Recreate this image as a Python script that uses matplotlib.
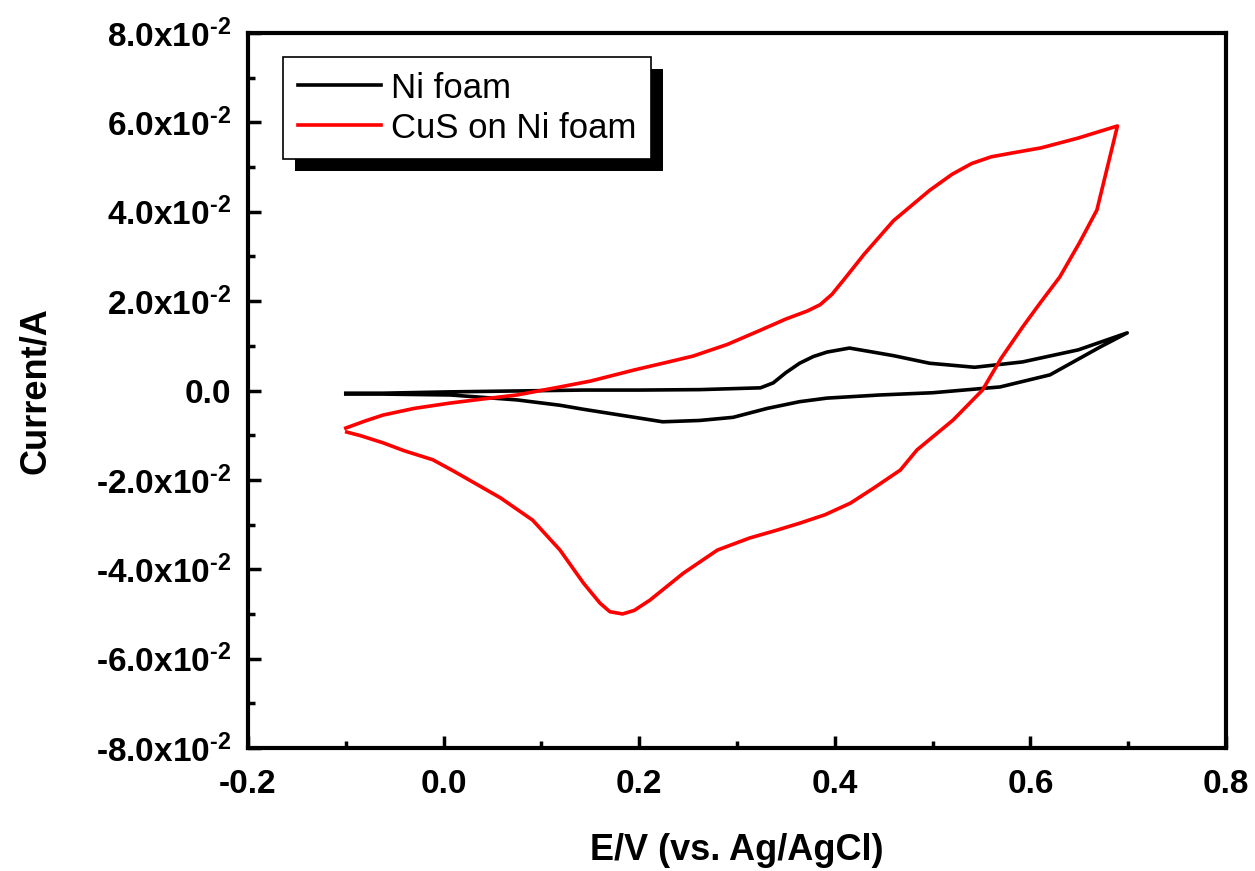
import numpy as np
import matplotlib
matplotlib.use('Agg')
import matplotlib.pyplot as plt
from matplotlib.patches import Rectangle
from matplotlib.ticker import FixedLocator, FixedFormatter, MultipleLocator

plt.rcParams['font.family'] = ['Liberation Sans', 'DejaVu Sans']
plt.rcParams['mathtext.fontset'] = 'custom'
plt.rcParams['mathtext.bf'] = 'Liberation Sans:bold'
plt.rcParams['mathtext.rm'] = 'Liberation Sans:bold'
plt.rcParams['mathtext.default'] = 'bf'

# CV data, E in V, I in A
# Ni foam: forward scan then reverse scan
ni_E = [-0.100, -0.062, 0.007, 0.075, 0.143, 0.200, 0.262, 0.324, 0.337, 0.350,
        0.364, 0.378, 0.392, 0.415, 0.439, 0.460, 0.497, 0.543, 0.592, 0.649,
        0.699,
        0.671, 0.620, 0.569, 0.500, 0.446, 0.392, 0.364, 0.331, 0.296, 0.262,
        0.224, 0.201, 0.143, 0.119, 0.075, 0.007, -0.062, -0.100]
ni_I = [-0.0006, -0.0006, -0.0003, -0.0001, 0.0001, 0.0001, 0.0002, 0.0006, 0.0017, 0.0040,
        0.0061, 0.0076, 0.0086, 0.0095, 0.0086, 0.0078, 0.0061, 0.0052, 0.0064, 0.0091,
        0.0129,
        0.0097, 0.0035, 0.0008, -0.0005, -0.0010, -0.0017, -0.0025, -0.0040, -0.0060, -0.0067,
        -0.0070, -0.0062, -0.0042, -0.0033, -0.0021, -0.0010, -0.0008, -0.0008]

# CuS on Ni foam: anodic scan to the top right corner, then cathodic scan back
cus_E = [-0.100, -0.080, -0.062, -0.030, 0.007, 0.040, 0.075, 0.119, 0.150, 0.195,
         0.230, 0.255, 0.290, 0.324, 0.350, 0.372, 0.385, 0.397, 0.410, 0.430,
         0.460, 0.497, 0.520, 0.540, 0.560, 0.580, 0.611, 0.649, 0.689,
         0.668, 0.650, 0.630, 0.610, 0.592, 0.570, 0.551, 0.521, 0.484, 0.467,
         0.440, 0.416, 0.390, 0.364, 0.340, 0.313, 0.280, 0.245, 0.211, 0.195,
         0.183, 0.170, 0.160, 0.143, 0.119, 0.091, 0.058, 0.030, 0.010, -0.011,
         -0.040, -0.062, -0.085, -0.099]
cus_I = [-0.0084, -0.0068, -0.0055, -0.0040, -0.0028, -0.0019, -0.0010, 0.0008, 0.0021, 0.0046,
         0.0064, 0.0077, 0.0103, 0.0135, 0.0160, 0.0178, 0.0192, 0.0215, 0.0250, 0.0305,
         0.0380, 0.0448, 0.0484, 0.0508, 0.0523, 0.0531, 0.0543, 0.0565, 0.0592,
         0.0404, 0.0330, 0.0254, 0.0196, 0.0142, 0.0072, 0.0001, -0.0066, -0.0133, -0.0178,
         -0.0218, -0.0252, -0.0278, -0.0297, -0.0313, -0.0330, -0.0357, -0.0409, -0.0469, -0.0492,
         -0.0500, -0.0495, -0.0476, -0.0431, -0.0357, -0.0290, -0.0240, -0.0205, -0.0180, -0.0155,
         -0.0135, -0.0117, -0.0101, -0.0093]

x_ticks = [-0.2, 0.0, 0.2, 0.4, 0.6, 0.8]
x_tick_labels = ['-0.2', '0.0', '0.2', '0.4', '0.6', '0.8']
y_ticks = [-0.08, -0.06, -0.04, -0.02, 0.0, 0.02, 0.04, 0.06, 0.08]
y_tick_labels = [r'-8.0x10$^{\text{-2}}$', r'-6.0x10$^{\text{-2}}$', r'-4.0x10$^{\text{-2}}$',
                 r'-2.0x10$^{\text{-2}}$', '0.0', r'2.0x10$^{\text{-2}}$',
                 r'4.0x10$^{\text{-2}}$', r'6.0x10$^{\text{-2}}$', r'8.0x10$^{\text{-2}}$']

fig = plt.figure(figsize=(12.55, 8.71), dpi=100)
ax = fig.add_axes([0.1976, 0.1412, 0.7793, 0.8209])

ax.plot(ni_E, ni_I, color='black', lw=2.6, label='Ni foam')
ax.plot(cus_E, cus_I, color='#ff0000', lw=2.6, label='CuS on Ni foam')

ax.set_xlim(-0.2, 0.8)
ax.set_ylim(-0.08, 0.08)
ax.xaxis.set_major_locator(FixedLocator(x_ticks))
ax.xaxis.set_major_formatter(FixedFormatter(x_tick_labels))
ax.xaxis.set_minor_locator(MultipleLocator(0.1))
ax.yaxis.set_major_locator(FixedLocator(y_ticks))
ax.yaxis.set_major_formatter(FixedFormatter(y_tick_labels))
ax.yaxis.set_minor_locator(MultipleLocator(0.01))

ax.tick_params(which='both', direction='in', width=2.5, top=False, right=False)
ax.tick_params(which='major', length=9, labelsize=24)
ax.tick_params(axis='y', which='major', pad=12)
ax.tick_params(axis='x', which='major', pad=15)
ax.tick_params(which='minor', length=5)
for lab in ax.get_xticklabels() + ax.get_yticklabels():
    lab.set_fontweight('bold')
for s in ax.spines.values():
    s.set_linewidth(3)

ax.set_xlabel('E/V (vs. Ag/AgCl)', fontsize=26, fontweight='bold', labelpad=24)
ax.set_ylabel('Current/A', fontsize=26, fontweight='bold', labelpad=31)

leg = ax.legend(loc='upper left', bbox_to_anchor=(0.0358, 0.9664), borderaxespad=0,
                fontsize=25, frameon=True, fancybox=False, framealpha=1,
                edgecolor='black', handlelength=2.4, handletextpad=0.3,
                borderpad=0.42, labelspacing=0.2)
leg.get_frame().set_linewidth(1.2)

# black drop shadow behind the legend box
fig.canvas.draw()
bb = leg.get_window_extent()
shadow = Rectangle((bb.x0 + 12, bb.y0 - 12), bb.width, bb.height, transform=None,
                   facecolor='black', edgecolor='none', zorder=4.9, clip_on=False)
ax.add_patch(shadow)

fig.savefig('out.png', dpi=100)
